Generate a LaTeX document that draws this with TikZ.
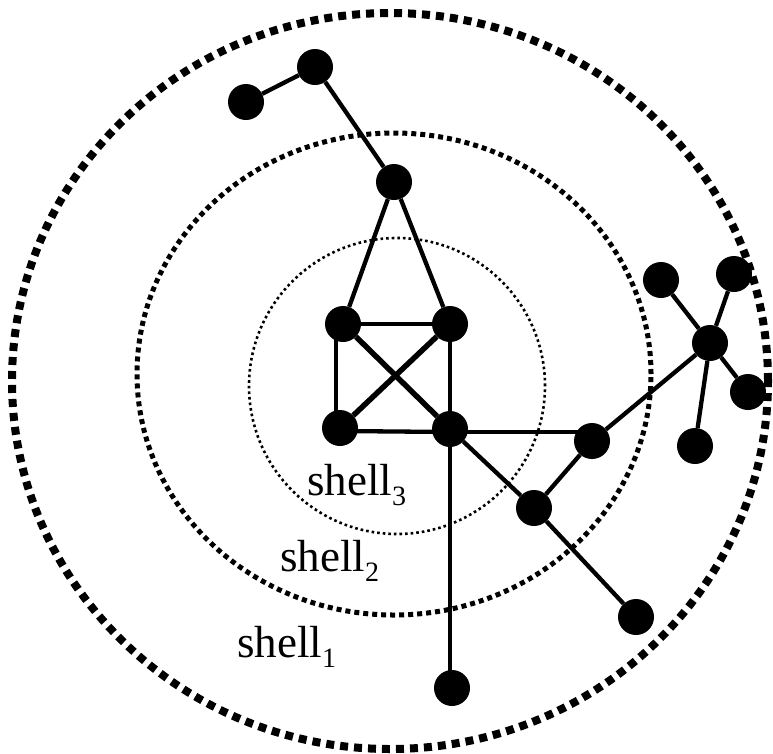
\documentclass[tikz,border=0pt]{standalone}
\usepackage{fontspec}
\setmainfont{Liberation Serif}
\usepackage{tikz}

\newcommand{\shellname}[1]{shell\raisebox{-10pt}{\fontsize{28}{30}\selectfont #1}}

\tikzset{
  vert/.style={circle, fill=black, inner sep=0pt, minimum size=36pt},
  link/.style={line width=4.3pt},
  boldlink/.style={line width=5.5pt},
  ring1/.style={line width=8pt, dash pattern=on 8pt off 6pt},
  ring2/.style={line width=5pt, dash pattern=on 5pt off 4pt},
  ring3/.style={line width=2.6pt, dash pattern=on 2.6pt off 3pt},
  shelltext/.style={anchor=base west, inner sep=0pt, font=\fontsize{45}{54}\selectfont}
}

\begin{document}
\begin{tikzpicture}[x=1pt, y=-1pt]
        \useasboundingbox (0,0) rectangle (773,753);
        % shells
        \draw [ring1] (390,381) ellipse [x radius=378pt, y radius=368pt];
        \draw [ring2] (394,374) ellipse [x radius=257pt, y radius=241pt];
        \draw [ring3] (397,386) ellipse [x radius=148pt, y radius=148pt];
        % vertices
        \node [vert] (n1) at (246,102) {};
        \node [vert] (n2) at (315,67) {};
        \node [vert] (n3) at (394,182) {};
        \node [vert] (n4) at (343,324) {};
        \node [vert] (n5) at (450,324) {};
        \node [vert] (n6) at (340,428) {};
        \node [vert] (n7) at (450,429) {};
        \node [vert] (n8) at (592,441) {};
        \node [vert] (n9) at (534,508) {};
        \node [vert] (n10) at (636,617) {};
        \node [vert] (n11) at (452,688) {};
        \node [vert] (n12) at (661,280) {};
        \node [vert] (n13) at (734,274) {};
        \node [vert] (n14) at (710,343) {};
        \node [vert] (n15) at (748,392) {};
        \node [vert] (n16) at (695,446) {};
        % edges
        \draw [link] (n1) -- (n2) -- (n3);
        \draw [link] (n3) -- (n4);
        \draw [link] (n3) -- (n5);
        \draw [link] (n4) -- (n5);
        \draw [link] ([xshift=-7pt]n4.center) -- ([xshift=-7pt]n4.center |- n6.center);
        \draw [link] (n5) -- (n7);
        \draw [boldlink] (n4) -- (n7);
        \draw [boldlink] (n5) -- (n6);
        \draw [link] ([yshift=-3pt]n6.center) -- ([yshift=-3pt]n7.center);
        \draw [link] ([yshift=-3pt]n7.center) -- ([yshift=-3pt]n7.center -| n8.center);
        \draw [link] (n7) -- (n9) -- (n10);
        \draw [link] (n9) -- (n8) -- (n14);
        \draw [link] (n7.center) -- (n7.center |- n11.center);
        \foreach \leaf in {n12,n13,n15,n16}
            \draw [link] (n14) -- (\leaf);
        % labels
        \node [shelltext] (s3) at (307,495) {\shellname{3}};
        \node [shelltext] (s2) at (280,571) {\shellname{2}};
        \node [shelltext] (s1) at (237,657) {\shellname{1}};
    \end{tikzpicture}
\end{document}
